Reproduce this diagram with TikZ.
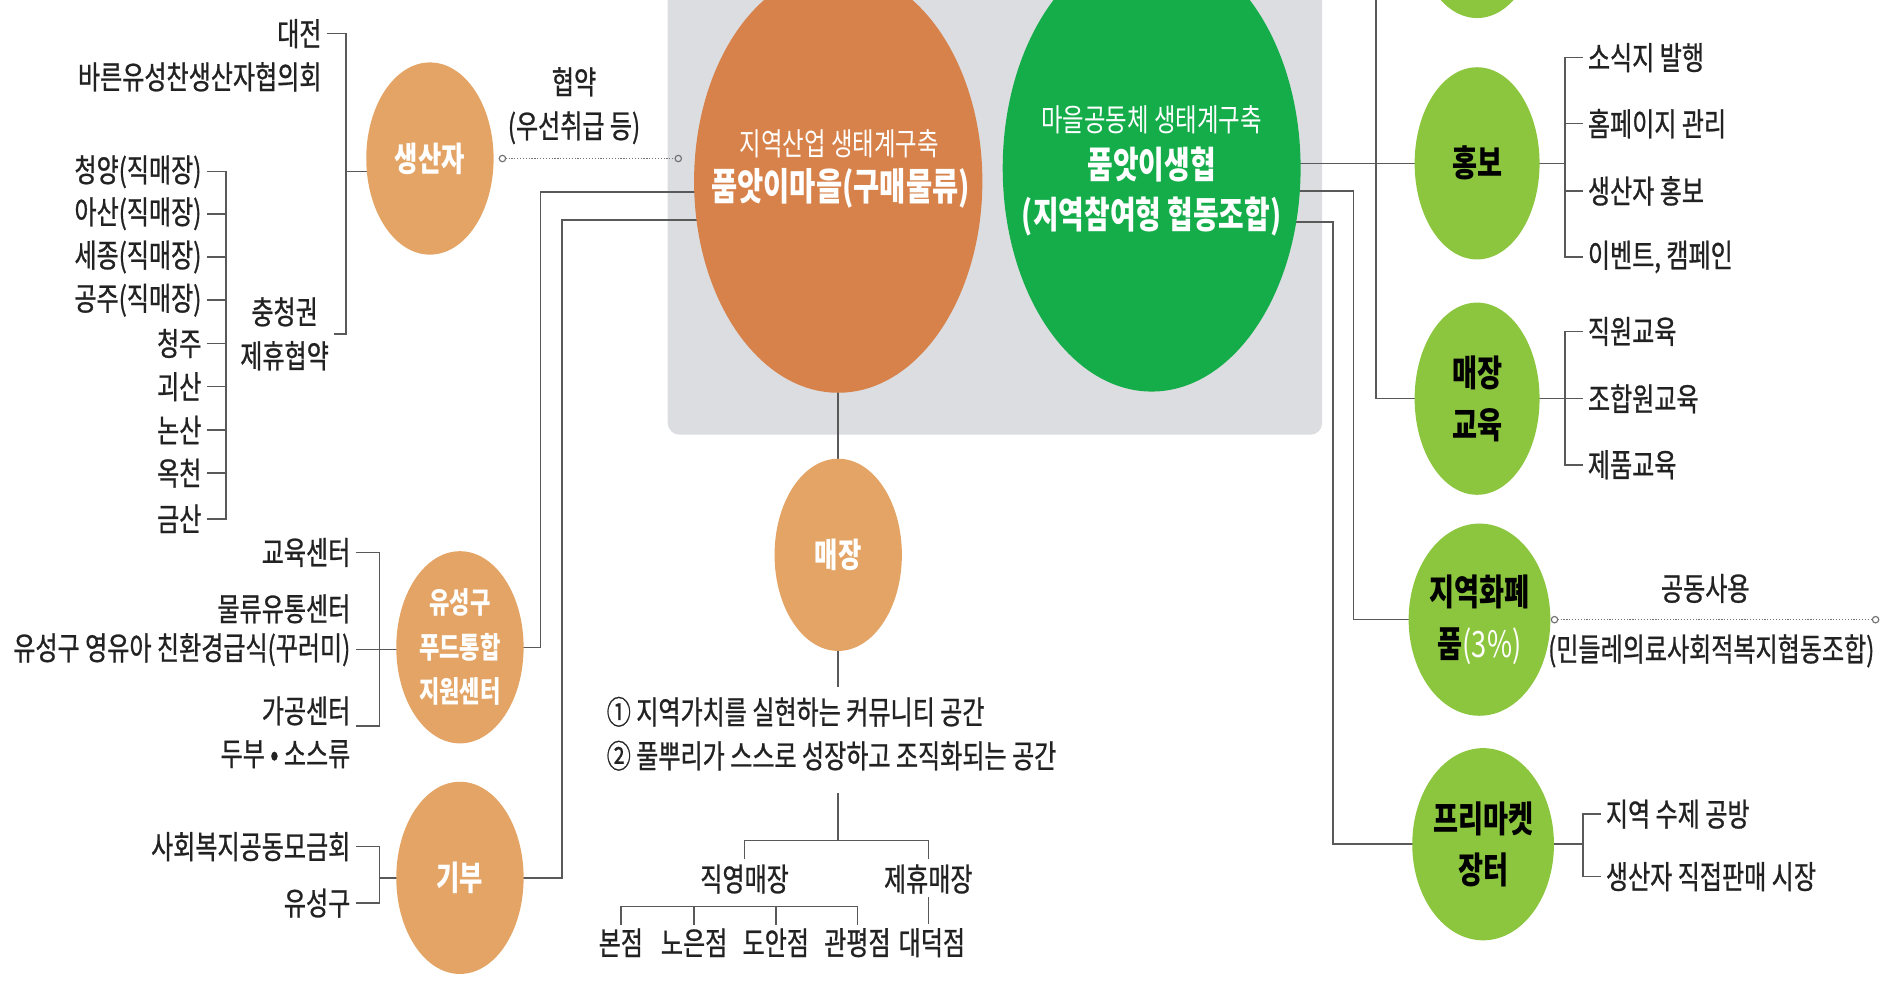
\documentclass[tikz,border=0pt]{standalone}
\usepackage{fontspec}
\setmainfont{Noto Sans CJK KR}[FakeStretch=0.75]
\newfontfamily\labfam{Noto Sans CJK KR}[FakeStretch=0.75,FakeBold=0.8]
\usetikzlibrary{shapes.geometric,arrows.meta,backgrounds}
\definecolor{bigorange}{HTML}{D7824A}
\definecolor{smallorange}{HTML}{E3A465}
\definecolor{biggreen}{HTML}{14AD4A}
\definecolor{smallgreen}{HTML}{8CC63F}
\definecolor{boxgray}{HTML}{DCDDE0}
\definecolor{inktext}{HTML}{222222}
\newcommand{\labfont}{\labfam\fontsize{19}{26}\selectfont}

\begin{document}
\begin{tikzpicture}[x=0.025cm,y=-0.025cm,
  lab/.style={font=\labfont,text=inktext,inner sep=0pt},
  conn/.style={draw=black!65,line width=0.9pt},
  dotc/.style={draw=black!55,line width=0.7pt,dash pattern=on 0.7pt off 1pt,
    {Circle[open,length=4.5pt,width=4.5pt]}-{Circle[open,length=4.5pt,width=4.5pt]}},
  ocirc/.style={ellipse,fill=smallorange,minimum width=2.65cm,minimum height=4cm,inner sep=0pt,
    text=white,align=center,font=\fontsize{20}{26}\selectfont\bfseries},
  gcirc/.style={ellipse,fill=smallgreen,minimum width=2.6cm,minimum height=4cm,inner sep=0pt,
    text=black,align=center,font=\fontsize{21.5}{30.5}\selectfont\bfseries}]
\useasboundingbox (0,0) rectangle (1568,817);

\node [ellipse,fill=bigorange,minimum width=6cm,minimum height=8.8cm,inner sep=0pt] (maeul) at (698,151) {};
\node [font=\fontsize{18.5}{20}\selectfont,text=white,inner sep=0pt] (maeultop) at (699,120) {지역산업 생태계구축};
\node [font=\fontsize{22.5}{26}\selectfont\bfseries,text=white,inner sep=0pt] (maeulname) at (700,157) {품앗이마을(구매물류)};

\node [ellipse,fill=biggreen,minimum width=6.2cm,minimum height=9.3cm,inner sep=0pt] (hyeop) at (959,140) {};
\node [font=\fontsize{18.5}{20}\selectfont,text=white,inner sep=0pt] (hyeoptop) at (959,100) {마을공동체 생태계구축};
\node [font=\fontsize{22}{24}\selectfont\bfseries,text=white,inner sep=0pt] (hyeopname) at (959,137) {품앗이생협};
\node [font=\fontsize{22}{24}\selectfont\bfseries,text=white,inner sep=0pt] (hyeopsub) at (959,180) {(지역참여형 협동조합)};

\node [ocirc] (saeng) at (358,132) {생산자};
\node [ocirc,font=\fontsize{17.5}{26.3}\selectfont\bfseries] (food) at (383,539) {유성구\\푸드통합\\지원센터};
\node [ocirc] (gibu) at (383,731) {기부};
\node [ocirc] (maejang) at (698,462) {매장};

\node [gcirc] (gtop) at (1230,-65) {};
\node [gcirc] (hongbo) at (1230,136) {홍보};
\node [gcirc] (edu) at (1230,332) {매장\\교육};
\node [gcirc] (hwapye) at (1232,516) {지역화폐\\품{\color{white}\mdseries(3\%)}};
\node [gcirc] (market) at (1235,703) {프리마켓\\장터};

\node [lab,anchor=east] (daejeon) at (268,28) {대전};
\node [lab,anchor=east] (bareun) at (268,64) {바른유성찬생산자협의회};
\node [lab,align=center] (chung) at (237,278) {충청권\\제휴협약};
\node [lab,align=center] (hyeopyak) at (478,88) {협약\\(우선취급 등)};

\node [lab,anchor=east] (chungyang) at (168,143) {청양(직매장)};
\node [lab,anchor=east] (asan) at (168,178) {아산(직매장)};
\node [lab,anchor=east] (sejong) at (168,214) {세종(직매장)};
\node [lab,anchor=east] (gongju) at (168,250) {공주(직매장)};
\node [lab,anchor=east] (cheongju) at (168,286) {청주};
\node [lab,anchor=east] (goesan) at (168,322) {괴산};
\node [lab,anchor=east] (nonsan) at (168,358) {논산};
\node [lab,anchor=east] (okcheon) at (168,394) {옥천};
\node [lab,anchor=east] (geumsan) at (168,432) {금산};

\node [lab,anchor=east] (gyoyuk) at (292,460) {교육센터};
\node [lab,anchor=east] (mulryu) at (292,507) {물류유통센터};
\node [lab,anchor=east] (kids) at (292,541) {유성구 영유아 친환경급식(꾸러미)};
\node [lab,anchor=east] (gagong) at (292,592) {가공센터};
\node [lab,anchor=east] (dubu) at (292,628) {두부 • 소스류};

\node [lab,anchor=east] (sahoe) at (292,705) {사회복지공동모금회};
\node [lab,anchor=east] (yuseonggu) at (292,752) {유성구};

\node [lab,align=left,anchor=west] (gachi) at (505,611) {① 지역가치를 실현하는 커뮤니티 공간\\② 풀뿌리가 스스로 성장하고 조직화되는 공간};
\node [lab] (jikyoung) at (620,732) {직영매장};
\node [lab] (jehyu) at (773,732) {제휴매장};
\node [lab] (bonjeom) at (517,785) {본점};
\node [lab] (noeun) at (578,785) {노은점};
\node [lab] (doan) at (646,785) {도안점};
\node [lab] (gwanpyeong) at (714,785) {관평점};
\node [lab] (daedeok) at (776,785) {대덕점};

\node [lab,anchor=west] (sosik) at (1322,48) {소식지 발행};
\node [lab,anchor=west] (homepage) at (1322,103) {홈페이지 관리};
\node [lab,anchor=west] (sanghong) at (1322,159) {생산자 홍보};
\node [lab,anchor=west] (event) at (1322,214) {이벤트, 캠페인};
\node [lab,anchor=west] (jikwon) at (1322,276) {직원교육};
\node [lab,anchor=west] (johab) at (1322,332) {조합원교육};
\node [lab,anchor=west] (jepum) at (1322,387) {제품교육};
\node [lab] (gongdong) at (1420,490) {공동사용};
\node [lab] (mindle) at (1425,542) {(민들레의료사회적복지협동조합)};
\node [lab,anchor=west] (sujae) at (1337,678) {지역 수제 공방};
\node [lab,anchor=west] (jikjeop) at (1337,730) {생산자 직접판매 시장};

\coordinate (sx) at (288,0);
\coordinate (cx) at (188,0);
\coordinate (fx) at (316,0);
\coordinate (ax) at (450,160);
\coordinate (bx) at (468,183);
\coordinate (split) at (698,700);
\coordinate (shelf) at (0,755);
\coordinate (hx) at (1146,-5);
\coordinate (hwx) at (1127,0);
\coordinate (mkx) at (1110,0);
\coordinate (hbx) at (1303,0);
\coordinate (mbx) at (1318,0);
\coordinate (mindleend) at (1565,516);

\begin{scope}[on background layer]
\fill [boxgray,rounded corners=7pt] (556,-30) rectangle (1101,362);

\draw [conn] ([xshift=3pt]daejeon.east) -| (sx |- chung.east) -- ([xshift=3pt]chung.east);
\draw [conn] (sx |- 0,143) -- (saeng.center |- 0,143);
\draw [dotc,shorten <=2.8pt,shorten >=6.9pt] (saeng.east) -- (maeul.west |- saeng.east);

\draw [conn] ([xshift=3pt]chungyang.east) -| (cx |- geumsan.east) -- ([xshift=3pt]geumsan.east);
\draw [conn] ([xshift=3pt]asan.east) -- (asan.east -| cx)
  ([xshift=3pt]sejong.east) -- (sejong.east -| cx)
  ([xshift=3pt]gongju.east) -- (gongju.east -| cx)
  ([xshift=3pt]cheongju.east) -- (cheongju.east -| cx)
  ([xshift=3pt]goesan.east) -- (goesan.east -| cx)
  ([xshift=3pt]nonsan.east) -- (nonsan.east -| cx)
  ([xshift=3pt]okcheon.east) -- (okcheon.east -| cx);

\draw [conn] ([xshift=3pt]gyoyuk.east) -| (fx |- gagong.south east) -- ([xshift=3pt]gagong.south east);
\draw [conn] ([xshift=3pt]kids.east) -- (food.center |- kids.east);
\draw [conn] ([xshift=3pt]sahoe.east) -| (fx |- yuseonggu.east) -- ([xshift=3pt]yuseonggu.east);
\draw [conn] (fx |- gibu.center) -- (gibu.center);

\draw [conn] (food.center) -| (ax) -- (maeul.center |- ax);
\draw [conn] (gibu.center) -| (bx) -- (maeul.center |- bx);

\draw [conn] (maeul.center) -- (maejang.center) -- (maejang.center |- 0,572);
\draw [conn] (split |- 0,660) -- (split);
\draw [conn] ([yshift=3pt]jikyoung.north) |- (split) -| ([yshift=3pt]jehyu.north);
\draw [conn] ([yshift=2pt]bonjeom.north) -- (bonjeom.north |- shelf) -- (gwanpyeong.north |- shelf) -- ([yshift=2pt]gwanpyeong.north)
  ([yshift=2pt]noeun.north) -- (noeun.north |- shelf)
  ([yshift=2pt]doan.north) -- (doan.north |- shelf);
\draw [conn] ([yshift=-2pt]jehyu.south) -- ([yshift=2pt]jehyu.south |- daedeok.north);

\draw [conn] (hyeop.center |- hongbo.center) -- (hongbo.center);
\draw [conn] (hx) |- (edu.center);
\draw [conn] (hyeop.center |- 0,159) -| (hwx |- hwapye.center) -- (hwapye.center);
\draw [conn] (hyeop.center |- 0,185) -| (mkx |- market.center) -- (market.center);

\draw [conn] (hongbo.center) -- (hongbo.center -| hbx);
\draw [conn] ([xshift=-3pt]sosik.west) -| (hbx |- event.west) -- ([xshift=-3pt]event.west);
\draw [conn] ([xshift=-3pt]homepage.west) -- (homepage.west -| hbx)
  ([xshift=-3pt]sanghong.west) -- (sanghong.west -| hbx);

\draw [conn] (edu.center) -- ([xshift=-3pt]johab.west);
\draw [conn] ([xshift=-3pt]jikwon.west) -| (hbx |- jepum.west) -- ([xshift=-3pt]jepum.west);

\draw [dotc] (hwapye.east) -- (mindleend);

\draw [conn] (market.center) -- (market.center -| mbx);
\draw [conn] ([xshift=-3pt]sujae.west) -| (mbx |- jikjeop.west) -- ([xshift=-3pt]jikjeop.west);
\end{scope}
\end{tikzpicture}
\end{document}
